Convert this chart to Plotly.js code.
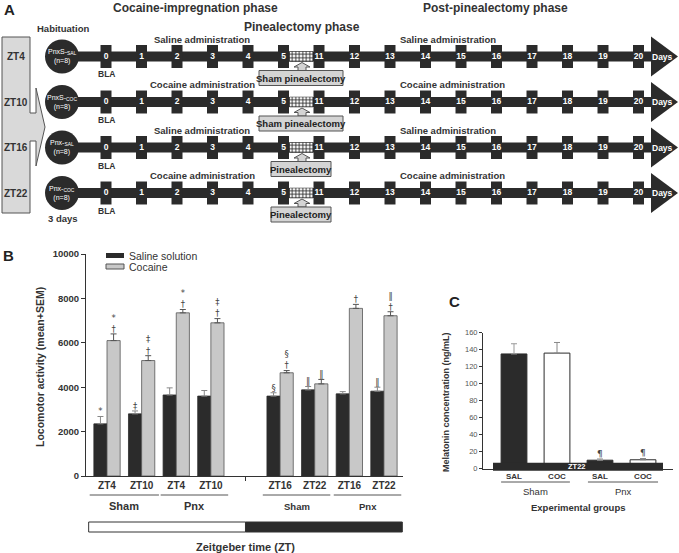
<!DOCTYPE html>
<html>
<head>
<meta charset="utf-8">
<script src="https://cdn.plot.ly/plotly-3.0.1.min.js"></script>
<style>body{margin:0;background:#fff}#chart{width:679px;height:553px}</style>
</head>
<body>
<div id="chart"></div>
<script>
// ---- panel A: protocol timeline ----
const days = [0, 1, 2, 3, 4, 5, 11, 12, 13, 14, 15, 16, 17, 18, 19, 20];
const zeitA = ['ZT4', 'ZT10', 'ZT16', 'ZT22'];
const groupA = ['PnxS-<sub>SAL</sub>', 'PnxS-<sub>COC</sub>', 'Pnx-<sub>SAL</sub>', 'Pnx-<sub>COC</sub>'];
const treatA = ['Saline administration', 'Cocaine administration', 'Saline administration', 'Cocaine administration'];
const surgeryA = ['Sham pinealectomy', 'Sham pinealectomy', 'Pinealectomy', 'Pinealectomy'];

// ---- panel B: locomotor activity ----
const zeitB = ['ZT4', 'ZT10', 'ZT4', 'ZT10', 'ZT16', 'ZT22', 'ZT16', 'ZT22'];
const slotB = [0, 1, 2, 3, 5, 6, 7, 8];
const salineB = [2350, 2800, 3650, 3600, 3600, 3880, 3700, 3820];
const salineSemB = [330, 130, 320, 250, 150, 150, 100, 180];
const cocaineB = [6100, 5200, 7350, 6900, 4650, 4150, 7550, 7220];
const cocaineSemB = [300, 220, 150, 190, 100, 200, 180, 180];
const salineSig = ['*', '‡', '', '', '§', '‖', '', '‖'];
const cocaineSig = ['*<br>†', '‡<br>†', '*<br>†', '‡<br>†', '§<br>†', '‖', '†', '‖<br>†'];

// ---- panel C: melatonin ----
const labelC = ['SAL', 'COC', 'SAL', 'COC'];
const salC = [135, 10];
const salSemC = [12, 1.5];
const cocC = [136, 10.5];
const cocSemC = [12.5, 1.5];
const sigC = ['', '¶'];

const W = 679, H = 553;
const FONT = 'Liberation Sans, Arial, sans-serif';
const SYM = 'DejaVu Sans, Liberation Sans, sans-serif';
const DARK = '#2b2b2b';
const px = x => x / W;
const py = y => 1 - y / H;
const rowY = r => 56.5 + 45.5 * r;
const SQ = 0.31; // day square width in slots

const ann = (x, y, text, size, extra) => Object.assign({
  xref: 'paper', yref: 'paper', x: px(x), y: py(y), text: text, showarrow: false,
  xanchor: 'center', yanchor: 'middle',
  font: {family: FONT, size: size, color: '#333', weight: 'bold'}
}, extra || {});
const rect = (x0, y0, x1, y1, fill, line, layer) => ({
  type: 'rect', xref: 'paper', yref: 'paper', x0: px(x0), x1: px(x1), y0: py(y0), y1: py(y1),
  fillcolor: fill, line: {color: line || fill, width: line ? 1 : 0}, layer: layer || 'above'
});
const poly = (pts, fill, line, layer) => ({
  type: 'path', xref: 'paper', yref: 'paper',
  path: 'M' + pts.map(p => px(p[0]) + ',' + py(p[1])).join('L') + 'Z',
  fillcolor: fill, line: {color: line || fill, width: line ? 1 : 0}, layer: layer || 'above'
});

const shapes = [];
const annotations = [];

// panel A decor
shapes.push(poly([[2, 37], [30, 37], [30, 113], [36, 113], [36, 88], [45, 127], [36, 166], [36, 141], [30, 141], [30, 213], [2, 213]], '#d9d9d9', '#555'));
zeitA.forEach((z, r) => {
  const y = rowY(r);
  shapes.push(rect(62, y - 5, 652, y + 5, DARK, null, 'below'));
  shapes.push(poly([[651, y - 20], [678, y], [651, y + 20]], DARK, null, 'below'));
  shapes.push({type: 'circle', xref: 'paper', yref: 'paper', x0: px(45), x1: px(79), y0: py(y - 17), y1: py(y + 17), fillcolor: DARK, line: {width: 0}, layer: 'below'});
  const bw = r < 2 ? 42 : 30;
  shapes.push(poly([[294, y + 10.5], [302, y + 6], [310, y + 10.5], [306, y + 10.5], [306, y + 14], [298, y + 14], [298, y + 10.5]], '#d4d4d4', '#555'));
  shapes.push(rect(301 - bw, y + 14, 301 + bw, y + 29, '#d4d4d4', '#555'));
  annotations.push(ann(301, y + 21.5, surgeryA[r], 9.5, {font: {family: FONT, size: 9.5, color: '#222', weight: 'bold'}}));
  annotations.push(ann(16, y, z, 10));
  annotations.push(ann(62, y, groupA[r] + '<br>(n=8)', 7, {font: {family: FONT, size: 7, color: 'white'}}));
  annotations.push(ann(202, y - 17, treatA[r], 9.5));
  annotations.push(ann(398, y - 17, treatA[r], 9.5, {xanchor: 'left'}));
  annotations.push(ann(106, y + 18, 'BLA', 8.5));
  annotations.push(ann(662, y, 'Days', 8.5, {font: {family: FONT, size: 8.5, color: 'white', weight: 'bold'}}));
});
annotations.push(ann(9, 9, 'A', 15, {font: {family: FONT, size: 15, color: '#222', weight: 'bold'}}));
annotations.push(ann(196, 8, 'Cocaine-impregnation phase', 12));
annotations.push(ann(302, 27, 'Pinealectomy phase', 12));
annotations.push(ann(495, 8, 'Post-pinealectomy phase', 12));
annotations.push(ann(63, 29, 'Habituation', 9.5));
annotations.push(ann(63, 219, '3 days', 9.5));

// panel B decor
annotations.push(ann(8, 256, 'B', 15, {font: {family: FONT, size: 15, color: '#222', weight: 'bold'}}));
annotations.push(ann(40, 367, 'Locomotor activity (mean+SEM)', 10.5, {textangle: -90}));
shapes.push(rect(106, 253, 124, 258, DARK));
shapes.push(rect(106, 264, 124, 269, '#c8c8c8', '#555'));
annotations.push(ann(127, 255.5, 'Saline solution', 10.5, {xanchor: 'left', font: {family: FONT, size: 10.5, color: '#333'}}));
annotations.push(ann(127, 266.5, 'Cocaine', 10.5, {xanchor: 'left', font: {family: FONT, size: 10.5, color: '#333'}}));
[[-0.5, 1.5, 'Sham', 11], [1.55, 3.5, 'Pnx', 11], [4.5, 6.45, 'Sham', 9.5], [6.55, 8.5, 'Pnx', 9.5]].forEach(g => {
  shapes.push({type: 'line', xref: 'x', yref: 'paper', x0: g[0], x1: g[1], y0: py(495), y1: py(495), line: {color: '#555', width: 1}});
  annotations.push({xref: 'x', yref: 'paper', x: (g[0] + g[1]) / 2, y: py(506), xanchor: 'center', yanchor: 'middle', text: g[2], showarrow: false, font: {family: FONT, size: g[3], color: '#333', weight: 'bold'}});
});
shapes.push({type: 'rect', xref: 'x', yref: 'paper', x0: -0.53, x1: 4, y0: py(532), y1: py(522), fillcolor: 'white', line: {color: '#333', width: 1}});
shapes.push({type: 'rect', xref: 'x', yref: 'paper', x0: 4, x1: 8.53, y0: py(532), y1: py(522), fillcolor: DARK, line: {color: '#333', width: 1}});
annotations.push({xref: 'x', yref: 'paper', x: 4, y: py(547), xanchor: 'center', yanchor: 'middle', text: 'Zeitgeber time (ZT)', showarrow: false, font: {family: FONT, size: 11, color: '#333', weight: 'bold'}});

// panel C decor
annotations.push(ann(455, 301, 'C', 15, {font: {family: FONT, size: 15, color: '#222', weight: 'bold'}}));
annotations.push(ann(446, 402, 'Melatonin concentration (ng/mL)', 9, {textangle: -90}));
shapes.push(rect(493, 462.7, 663, 470.7, DARK));
annotations.push(ann(577, 466.7, 'ZT22', 7.5, {font: {family: FONT, size: 7.5, color: 'white', weight: 'bold'}}));
[[-0.3, 1.3, 'Sham'], [1.72, 3.35, 'Pnx']].forEach(g => {
  shapes.push({type: 'line', xref: 'x2', yref: 'paper', x0: g[0], x1: g[1], y0: py(482), y1: py(482), line: {color: '#555', width: 1}});
  annotations.push({xref: 'x2', yref: 'paper', x: (g[0] + g[1]) / 2, y: py(491.5), xanchor: 'center', yanchor: 'middle', text: g[2], showarrow: false, font: {family: FONT, size: 9.5, color: '#333'}});
});
annotations.push(ann(578, 507, 'Experimental groups', 9.5));

// ---- traces ----
const rowIdx = zeitA.map((z, r) => r);
const daySlotX = [], dayRowY = [], dayText = [];
rowIdx.forEach(r => days.forEach((d, i) => { daySlotX.push(i); dayRowY.push(r); dayText.push(String(d)); }));

// significance marks: keep only the bars that carry one
const sigPoints = (xs, ys, marks) => {
  const keep = marks.map((m, i) => i).filter(i => marks[i] !== '');
  return {x: keep.map(i => xs[i]), y: keep.map(i => ys[i]), text: keep.map(i => marks[i])};
};
const sigSal = sigPoints(slotB.map(s => s - 0.19), salineB.map((v, i) => v + salineSemB[i]), salineSig);
const sigCoc = sigPoints(slotB.map(s => s + 0.19), cocaineB.map((v, i) => v + cocaineSemB[i]), cocaineSig);
const sigMel = sigPoints([0, 2, 1, 3], salC.map((v, i) => v + salSemC[i]).concat(cocC.map((v, i) => v + cocSemC[i])), sigC.concat(sigC));

const traces = [
  {type: 'bar', xaxis: 'x3', yaxis: 'y3', x: daySlotX, y: daySlotX.map(() => 0.505), base: dayRowY.map(r => r - 0.2525),
    width: SQ, marker: {color: DARK, line: {width: 0}}, hoverinfo: 'skip'},
  {type: 'bar', orientation: 'h', xaxis: 'x3', yaxis: 'y3', y: rowIdx, x: rowIdx.map(() => 1 - SQ - 0.03),
    base: rowIdx.map(() => 5 + SQ / 2 + 0.015), width: 0.22,
    marker: {color: 'white', line: {color: DARK, width: 0.5}, pattern: {shape: '+', fgcolor: DARK, bgcolor: 'white', size: 3.5, solidity: 0.45}}, hoverinfo: 'skip'},
  {type: 'scatter', mode: 'text', xaxis: 'x3', yaxis: 'y3', x: daySlotX, y: dayRowY, text: dayText,
    textfont: {family: FONT, size: 8.5, color: 'white', weight: 'bold'}, hoverinfo: 'skip'},

  {type: 'bar', name: 'Saline solution', x: slotB, y: salineB, offset: -0.38, width: 0.38,
    marker: {color: DARK, line: {color: DARK, width: 0.8}},
    error_y: {type: 'data', symmetric: false, array: salineSemB, arrayminus: salineSemB.map(() => 0), color: '#888', thickness: 1, width: 3}},
  {type: 'bar', name: 'Cocaine', x: slotB, y: cocaineB, offset: 0, width: 0.38,
    marker: {color: '#c8c8c8', line: {color: '#555', width: 0.8}},
    error_y: {type: 'data', symmetric: false, array: cocaineSemB, arrayminus: cocaineSemB.map(() => 0), color: '#555', thickness: 1, width: 3}},
  Object.assign({type: 'scatter', mode: 'text', textposition: 'top center',
    textfont: {family: SYM, size: 8.5, color: '#444'}, hoverinfo: 'skip'}, sigSal),
  Object.assign({type: 'scatter', mode: 'text', textposition: 'top center',
    textfont: {family: SYM, size: 8.5, color: '#444'}, hoverinfo: 'skip'}, sigCoc),

  {type: 'bar', xaxis: 'x2', yaxis: 'y2', x: [0, 2], y: salC, width: 0.6,
    marker: {color: DARK, line: {color: DARK, width: 1}},
    error_y: {type: 'data', symmetric: false, array: salSemC, arrayminus: [0, 0], color: '#999', thickness: 1, width: 3}},
  {type: 'bar', xaxis: 'x2', yaxis: 'y2', x: [1, 3], y: cocC, width: 0.6,
    marker: {color: 'white', line: {color: DARK, width: 1}},
    error_y: {type: 'data', symmetric: false, array: cocSemC, arrayminus: [0, 0], color: '#888', thickness: 1, width: 3}},
  Object.assign({type: 'scatter', mode: 'text', xaxis: 'x2', yaxis: 'y2', textposition: 'top center',
    textfont: {family: SYM, size: 9, color: '#444'}, hoverinfo: 'skip'}, sigMel)
];

const layout = {
  width: W, height: H, margin: {l: 0, r: 0, t: 0, b: 0},
  paper_bgcolor: 'white', plot_bgcolor: 'rgba(0,0,0,0)',
  showlegend: false, barmode: 'overlay',
  font: {family: FONT, color: '#333'},
  xaxis: {domain: [px(86), px(403)], range: [-0.607, 8.55], anchor: 'y', tickvals: slotB, ticktext: zeitB,
    showline: true, linecolor: '#333', linewidth: 1, ticks: '', showgrid: false, zeroline: false,
    tickfont: {family: FONT, size: 10, color: '#333', weight: 'bold'},
    minor: {tickvals: [4], ticks: 'outside', ticklen: 4, tickcolor: '#333', showgrid: false}},
  yaxis: {domain: [py(476), py(254)], range: [0, 10000], anchor: 'x', tickvals: [0, 2000, 4000, 6000, 8000, 10000],
    tickformat: 'd', showline: true, linecolor: '#333', linewidth: 1, ticks: 'outside', ticklen: 4, tickcolor: '#333',
    showgrid: false, zeroline: false, tickfont: {family: FONT, size: 9.5, color: '#333', weight: 'bold'}},
  xaxis2: {domain: [px(483), px(673)], range: [-0.721, 3.698], anchor: 'y2', tickvals: [0, 1, 2, 3], ticktext: labelC,
    showline: true, linecolor: '#333', linewidth: 1, ticks: '', showgrid: false, zeroline: false,
    tickfont: {family: FONT, size: 8, color: '#333', weight: 'bold'}},
  yaxis2: {domain: [py(468.7), py(332.7)], range: [0, 160], anchor: 'x2', dtick: 20,
    showline: true, linecolor: '#333', linewidth: 1, ticks: 'outside', ticklen: 3, tickcolor: '#333',
    showgrid: false, zeroline: false, tickfont: {family: FONT, size: 7.5, color: '#555'}},
  xaxis3: {domain: [0, 1], range: [-106 / 35.5, (W - 106) / 35.5], anchor: 'y3', visible: false},
  yaxis3: {domain: [py(235), 1], range: [(235 - 56.5) / 45.5, -56.5 / 45.5], anchor: 'x3', visible: false},
  shapes: shapes,
  annotations: annotations
};

Plotly.newPlot('chart', traces, layout, {displayModeBar: false, staticPlot: true});
</script>
</body>
</html>
